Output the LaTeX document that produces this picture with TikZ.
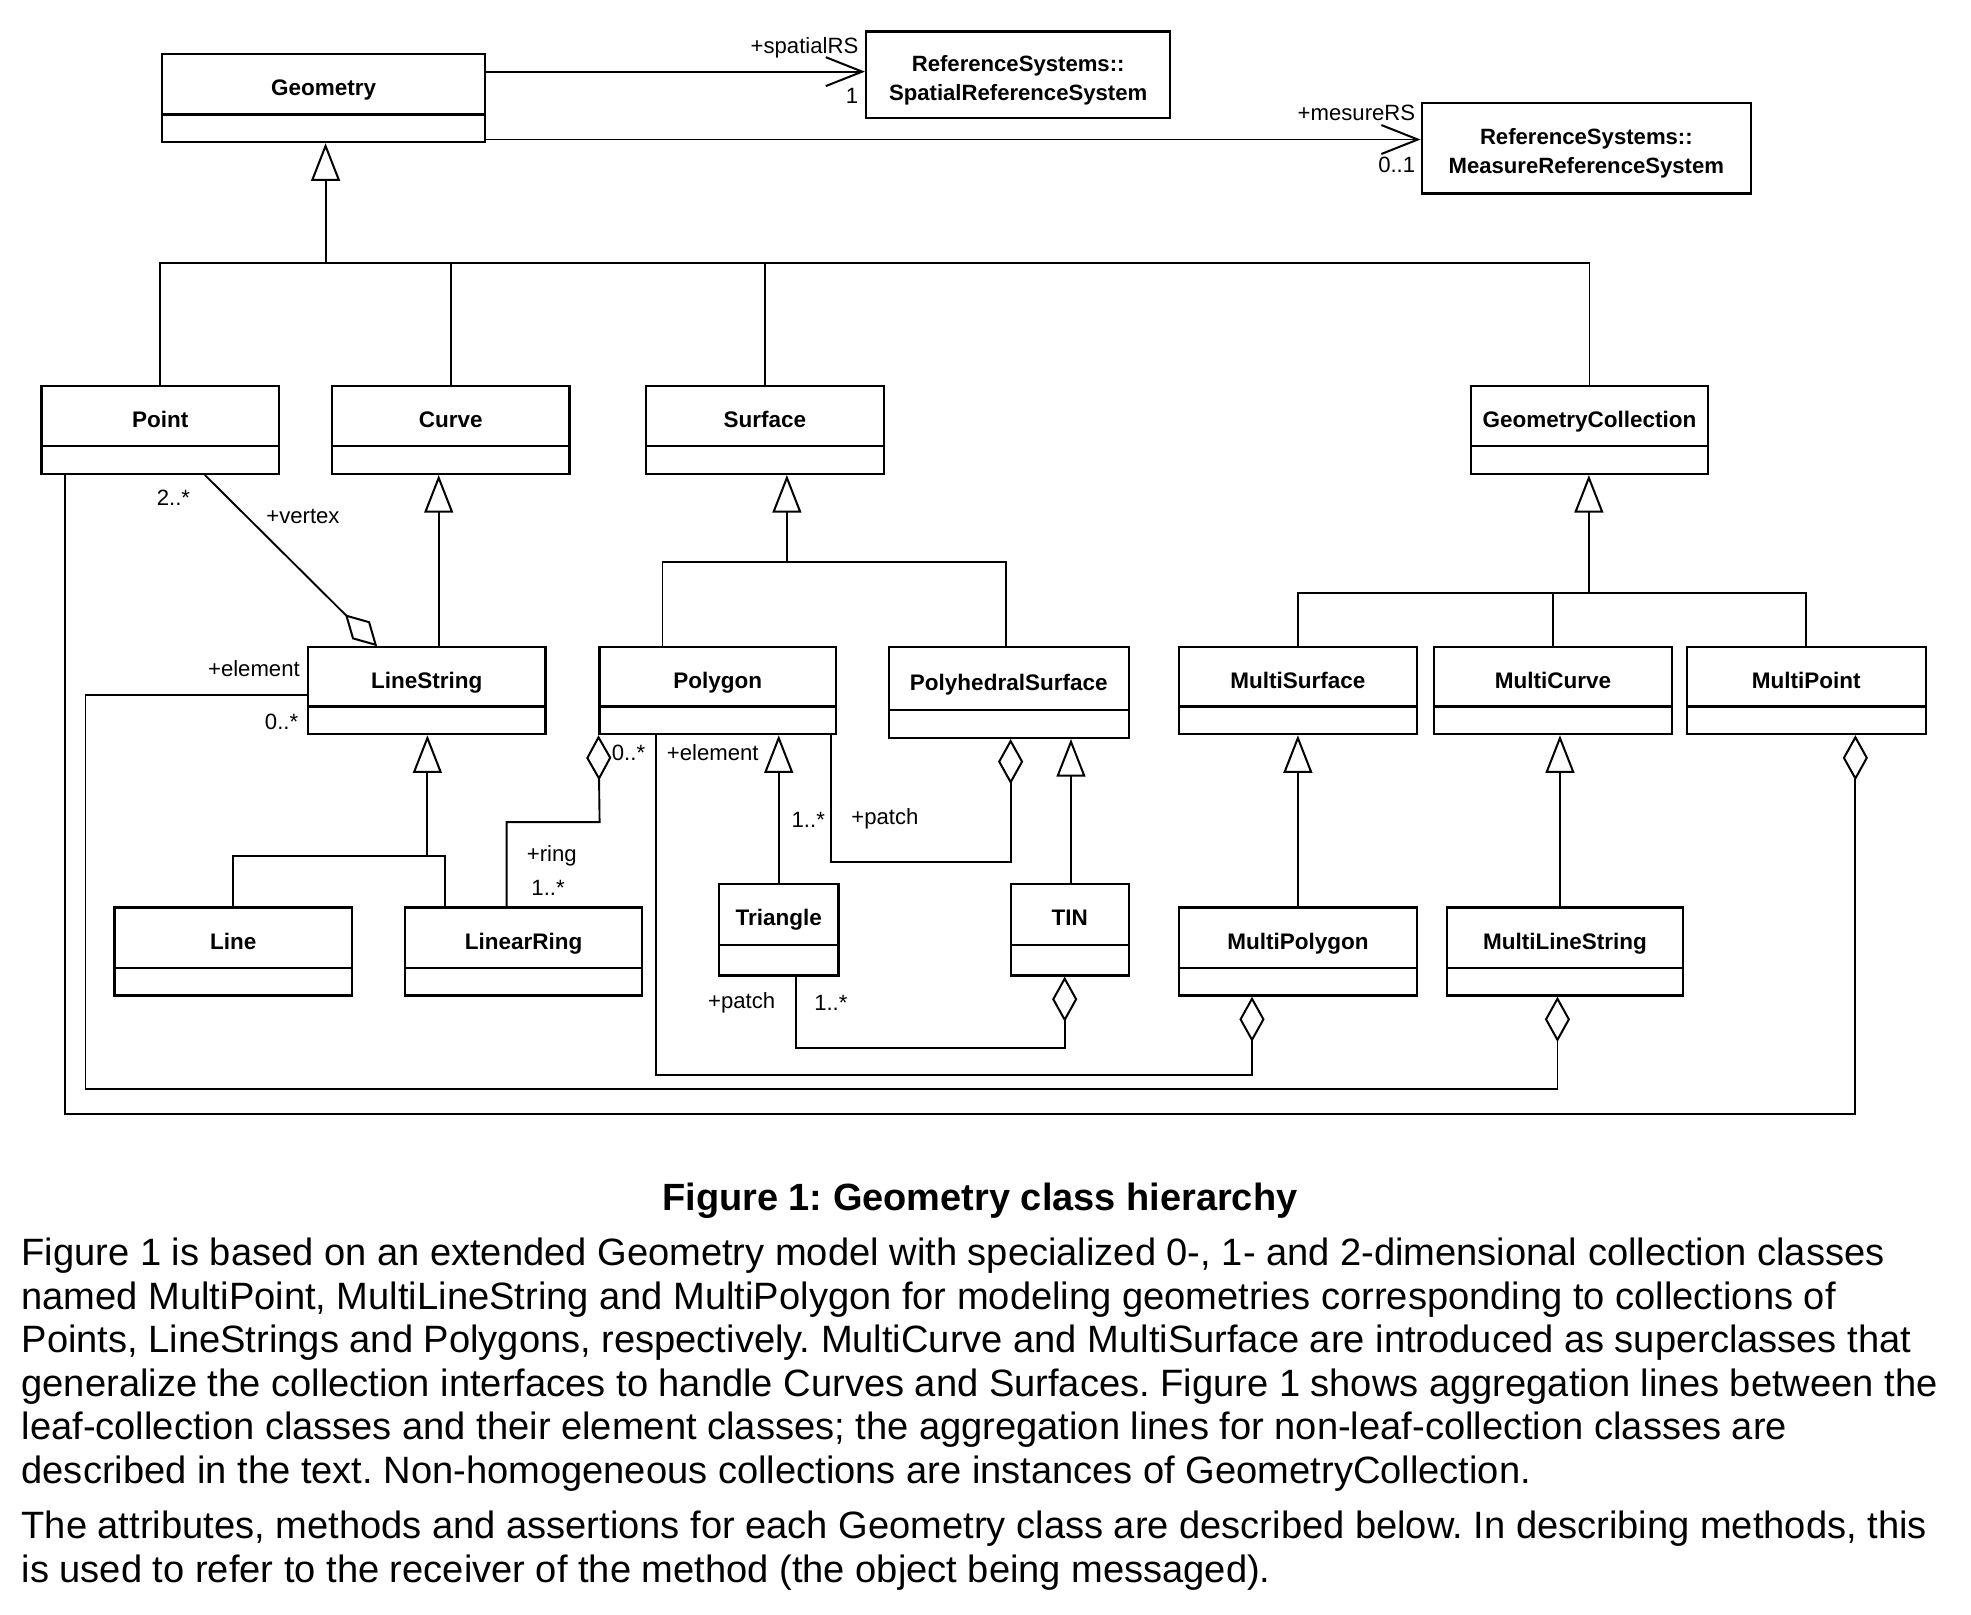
\documentclass[tikz,border=0pt]{standalone}
\usepackage{fontspec}
\setmainfont{Liberation Sans}
\frenchspacing
\usetikzlibrary{arrows.meta}

\tikzset{
  cls/.style={draw, line width=1.8pt, inner sep=0pt, minimum width=189pt, minimum height=70pt,
    text height=13pt, text depth=16.5pt, font=\fontsize{17.9}{20}\selectfont\bfseries,
    path picture={\draw[line width=1.8pt] ([yshift=#1]path picture bounding box.south west)
      -- ([yshift=#1]path picture bounding box.south east);}},
  cls/.default=22pt,
  smallcls/.style={cls=24pt, minimum height=73pt, text depth=19.5pt},
  refsys/.style={draw, line width=1.8pt, inner sep=0pt, align=center,
    font=\fontsize{17.6}{23}\selectfont\bfseries},
  role/.style={inner sep=0pt, font=\fontsize{17.6}{20}\selectfont},
  conn/.style={line width=1.5pt},
  gen/.style={conn, -{Triangle[open, length=30pt, width=23pt, line width=1.6pt]}},
  agg/.style={conn, -{Diamond[open, length=36pt, width=20pt, line width=1.6pt]}},
  nav/.style={conn, -{Straight Barb[length=29pt, width=23pt, line width=1.6pt]}},
  bodytxt/.style={anchor=base west, inner sep=0pt, font=\fontsize{30.3}{34}\selectfont},
}

\begin{document}
\begin{tikzpicture}[x=1pt, y=-1pt]
  \fill[white] (0,0) rectangle (1568,1284);
  \useasboundingbox (0,0) rectangle (1568,1284);

  % classes
  \node[cls, minimum width=257pt] (Geometry) at (257.5,78) {Geometry};
  \node[refsys, minimum width=242pt, minimum height=69pt] (Spatial) at (810,59.5)
    {\rule{0pt}{21pt}ReferenceSystems::\\SpatialReferenceSystem};
  \node[refsys, minimum width=262pt, minimum height=72pt] (Measure) at (1262,118)
    {\rule{0pt}{21pt}ReferenceSystems::\\MeasureReferenceSystem};

  \node[cls] (Point) at (127.5,342) {Point};
  \node[cls] (Curve) at (358.5,342) {Curve};
  \node[cls] (Surface) at (608.5,342) {Surface};
  \node[cls] (GeomColl) at (1264.5,342) {GeometryCollection};

  \node[cls, minimum height=69pt] (LineString) at (339.5,549.5) {LineString};
  \node[cls, minimum height=69pt, minimum width=188pt] (Polygon) at (571,549.5) {Polygon};
  \node[cls, minimum height=72pt, minimum width=191pt] (PolySurf) at (802.5,551) {PolyhedralSurface};
  \node[cls, minimum height=69pt] (MultiSurface) at (1032.5,549.5) {MultiSurface};
  \node[cls, minimum height=69pt] (MultiCurve) at (1235.5,549.5) {MultiCurve};
  \node[cls, minimum height=69pt, minimum width=190pt] (MultiPoint) at (1437,549.5) {MultiPoint};

  \node[cls] (Line) at (185.5,757) {Line};
  \node[cls] (LinearRing) at (416.5,757) {LinearRing};
  \node[smallcls, minimum width=95pt] (Triangle) at (619.5,739.5) {Triangle};
  \node[smallcls, minimum width=94pt] (TIN) at (851,739.5) {TIN};
  \node[cls] (MultiPolygon) at (1032.5,757) {MultiPolygon};
  \node[cls, minimum width=188pt] (MultiLineString) at (1245,757) {MultiLineString};

  % associations to the reference systems
  \draw[nav] (Geometry.east |- 0,57) -- (Spatial.west |- 0,57);
  \draw[nav] (Geometry.east |- 0,111) -- (Measure.west |- 0,111);
  \node[role, anchor=east] (srsrole) at (683,38) {+spatialRS};
  \node[role, anchor=east] (srsmult) at (683,76) {1};
  \node[role, anchor=east] (mrsrole) at (1126,90) {+mesureRS};
  \node[role, anchor=east] (mrsmult) at (1126,131) {0..1};

  % generalization trees
  \coordinate (gjoin) at (259,209);
  \draw[gen] (gjoin) -- (gjoin |- Geometry.south);
  \draw[conn] (Point.north) |- (GeomColl.north |- gjoin) -- (GeomColl.north);
  \draw[conn] (Curve.north) -- (Curve.north |- gjoin);
  \draw[conn] (Surface.north) -- (Surface.north |- gjoin);

  \draw[gen] (349,0 |- LineString.north) -- (349,0 |- Curve.south);

  \coordinate (lsjoin) at (340,681);
  \draw[gen] (lsjoin) -- (lsjoin |- LineString.south);
  \draw[conn] (Line.north) |- (354,681) -- (354,0 |- LinearRing.north);

  \coordinate (sfjoin) at (626,447);
  \draw[gen] (sfjoin) -- (sfjoin |- Surface.south);
  \draw[conn] (527,0 |- Polygon.north) |- (800,447) -- (800,0 |- PolySurf.north);

  \draw[gen] (Triangle.north) -- (Triangle.north |- Polygon.south);
  \draw[gen] (852,0 |- TIN.north) -- (852,0 |- PolySurf.south);

  \coordinate (gcjoin) at (1264,472);
  \draw[gen] (gcjoin) -- (gcjoin |- GeomColl.south);
  \draw[conn] (MultiSurface.north) |- (MultiPoint.north |- gcjoin) -- (MultiPoint.north);
  \draw[conn] (MultiCurve.north) -- (MultiCurve.north |- gcjoin);

  \draw[gen] (MultiPolygon.north) -- (MultiPolygon.north |- MultiSurface.south);
  \draw[gen] (1241,0 |- MultiLineString.north) -- (1241,0 |- MultiCurve.south);

  % aggregations
  \draw[agg] (163,0 |- Point.south) -- (300,0 |- LineString.north);
  \node[role] (vxmult) at (138,396) {2..*};
  \node[role] (vxrole) at (241,411) {+vertex};

  \coordinate (ringbend) at (477,654);
  \draw[agg] (403,0 |- LinearRing.north) |- (ringbend) -- (Polygon.south west);
  \node[role] (ringrole) at (439,681) {+ring};
  \node[role] (ringmult) at (436,706) {1..*};
  \node[role] (polymult) at (500,599) {0..*};

  \draw[agg] (661,0 |- Polygon.south) |- (804,686) -- (804,0 |- PolySurf.south);
  \node[role] (psmult) at (643,652) {1..*};
  \node[role] (psrole) at (704,651) {+patch};

  \draw[agg] (633,0 |- Triangle.south) |- (847,834) -- (847,0 |- TIN.south);
  \node[role] (tinrole) at (590,798) {+patch};
  \node[role] (tinmult) at (661,798) {1..*};

  \draw[agg] (522,0 |- Polygon.south) |- (996,855) -- (996,0 |- MultiPolygon.south);
  \node[role] (mpgrole) at (567,599) {+element};

  \draw[agg] ([yshift=-3.5pt]LineString.west) -| (68,866) -| (1239,0 |- MultiLineString.south);
  \node[role] (mlsrole) at (202,532) {+element};
  \node[role] (mlsmult) at (224,574) {0..*};

  \draw[agg] (52,0 |- Point.south) |- (1476,886) -- (1476,0 |- MultiPoint.south);

  % caption and text
  \node[anchor=base, inner sep=0pt, font=\fontsize{30.2}{34}\selectfont\bfseries] (caption)
    at (779.5,963) {Figure 1: Geometry class hierarchy};
  \foreach \ln [count=\i] in {
    {Figure 1 is based on an extended Geometry model with specialized 0-, 1- and 2-dimensional collection classes},
    {named MultiPoint, MultiLineString and MultiPolygon for modeling geometries corresponding to collections of},
    {Points, LineStrings and Polygons, respectively. MultiCurve and MultiSurface are introduced as superclasses that},
    {generalize the collection interfaces to handle Curves and Surfaces. Figure 1 shows aggregation lines between the},
    {leaf-collection classes and their element classes; the aggregation lines for non-leaf-collection classes are},
    {described in the text. Non-homogeneous collections are instances of GeometryCollection.}} {
    \node[bodytxt] (para\i) at (17,{1007+34.6*(\i-1)}) {\ln};
  }
  \foreach \ln [count=\i] in {
    {The attributes, methods and assertions for each Geometry class are described below. In describing methods, this},
    {is used to refer to the receiver of the method (the object being messaged).}} {
    \node[bodytxt] (parb\i) at (17,{1224+34.6*(\i-1)}) {\ln};
  }
\end{tikzpicture}
\end{document}
